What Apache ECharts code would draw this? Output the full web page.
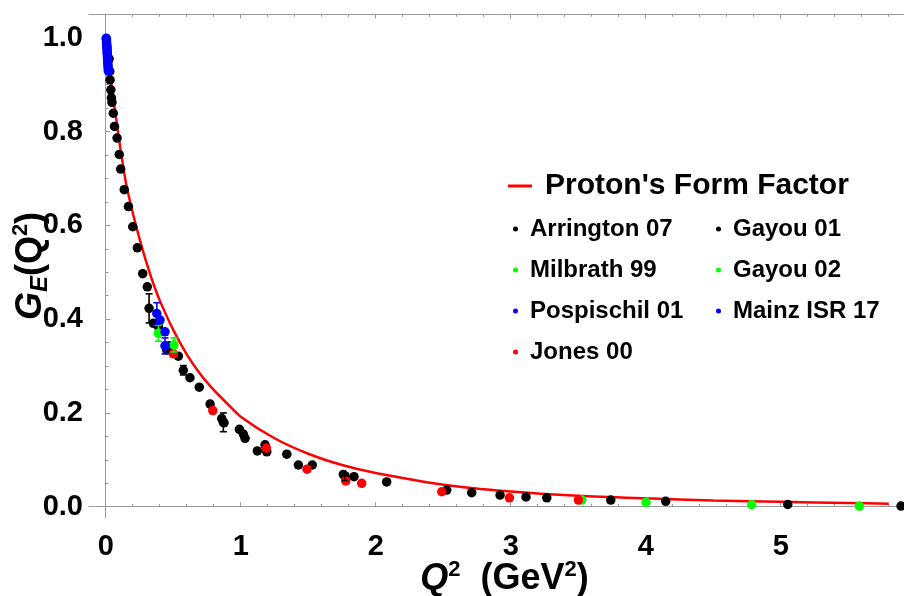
<!DOCTYPE html>
<html><head><meta charset="utf-8">
<script src="https://cdn.jsdelivr.net/npm/echarts@6/dist/echarts.min.js"></script>
<style>html,body{margin:0;padding:0;background:#fff}#c{width:904px;height:596px}</style>
</head><body><div id="c"></div>
<script>
// ---- tick labels ----
const xTicks = [0, 1, 2, 3, 4, 5];
const xMinorTicks = [0.2,0.4,0.6,0.8,1.2,1.4,1.6,1.8,2.2,2.4,2.6,2.8,3.2,3.4,3.6,3.8,4.2,4.4,4.6,4.8,5.2,5.4,5.6,5.8];
const yTicks = [0, 0.2, 0.4, 0.6, 0.8, 1.0];
const yMinorTicks = [0.05,0.1,0.15,0.25,0.3,0.35,0.45,0.5,0.55,0.65,0.7,0.75,0.85,0.9,0.95];

// ---- model curve (Q^2, G_E) ----
const curveQ2 = [0,0.02,0.04,0.06,0.08,0.1,0.15,0.2,0.25,0.3,0.35,0.4,0.5,0.6,0.7,0.8,0.9,1.0,1.25,1.5,1.75,2.0,2.5,3.0,3.5,4.0,4.5,5.0,5.5,5.8];
const curveGE = [1.0,0.950,0.905,0.862,0.822,0.78,0.69,0.627,0.572,0.522,0.478,0.44,0.377,0.325,0.283,0.249,0.22,0.192,0.146,0.113,0.089,0.072,0.047,0.0325,0.0235,0.018,0.0135,0.0104,0.008,0.0066];

// ---- data sets: [Q^2, G_E, error] ----
const arrington07 = [[0.025,0.955,0],[0.030,0.928,0],[0.032,0.910,0],[0.038,0.889,0],[0.042,0.872,0],[0.046,0.862,0],[0.056,0.839,0],[0.065,0.811,0],[0.084,0.786,0],[0.100,0.751,0],[0.111,0.720,0],[0.137,0.676,0],[0.168,0.640,0],[0.200,0.597,0],[0.234,0.552,0],[0.274,0.497,0],[0.308,0.469,0],[0.321,0.423,0.031],[0.353,0.391,0],[0.390,0.384,0],[0.452,0.334,0],[0.471,0.343,0],[0.538,0.321,0],[0.624,0.275,0],[0.693,0.255,0],[0.773,0.219,0],[0.859,0.188,0],[0.871,0.180,0.02],[0.990,0.165,0],[1.019,0.155,0],[1.123,0.119,0],[1.180,0.132,0],[1.341,0.112,0],[1.427,0.089,0],[1.530,0.089,0],[1.760,0.069,0],[1.839,0.064,0],[2.081,0.053,0],[2.711,0.030,0],[2.921,0.025,0],[3.113,0.021,0],[3.267,0.019,0],[3.741,0.0143,0],[4.148,0.0115,0],[5.052,0.005,0],[5.891,0.0015,0]];
const gayou01 = [[0.575,0.291,0.01],[0.876,0.179,0],[1.032,0.146,0],[1.193,0.117,0],[1.773,0.064,0.008],[2.526,0.0356,0]];
const milbrath99 = [[0.390,0.370,0.017],[0.505,0.345,0.015]];
const gayou02 = [[3.526,0.0143,0],[4.002,0.0094,0],[4.785,0.0043,0],[5.582,0.0015,0]];
const pospischil01 = [[0.378,0.412,0.023],[0.402,0.398,0],[0.439,0.373,0],[0.439,0.343,0.017]];
const mainzISR17 = [[0.004,0.999,0],[0.005,0.996,0],[0.006,0.993,0],[0.006,0.989,0],[0.007,0.986,0],[0.008,0.982,0],[0.009,0.979,0],[0.010,0.975,0],[0.011,0.971,0],[0.011,0.967,0],[0.012,0.963,0],[0.013,0.958,0],[0.014,0.954,0],[0.015,0.949,0],[0.016,0.944,0],[0.017,0.939,0],[0.018,0.934,0],[0.019,0.929,0]];
const jones00 = [[0.501,0.326,0],[0.793,0.205,0],[1.190,0.125,0],[1.491,0.080,0],[1.778,0.055,0],[1.896,0.050,0],[2.489,0.032,0],[2.990,0.019,0],[3.501,0.0143,0]];

const X_MIN = -0.124, X_MAX = 5.913, Y_MIN = -0.024, Y_MAX = 1.0506;
const FONT = 'Liberation Sans, Arial, sans-serif';
const AX = '#999999';

const chart = echarts.init(document.getElementById('c'), null, {renderer: 'canvas'});

function scatter(name, data, color, z) {
  return {name, type: 'scatter', data: data.map(d => [d[0], d[1]]), symbolSize: 9.5,
    itemStyle: {color, opacity: 1}, z, xAxisIndex: 0, yAxisIndex: 0, silent: true};
}
function errors(name, data, color, z) {
  return {name: name + ' err', type: 'custom', xAxisIndex: 0, yAxisIndex: 0, z, silent: true,
    data: data.filter(d => d[2] > 0),
    renderItem(params, api) {
      const x = api.value(0), y = api.value(1), e = api.value(2);
      const t = api.coord([x, y + e]), b = api.coord([x, y - e]);
      const hw = 3.5, st = {stroke: color, lineWidth: 1.6};
      return {type: 'group', children: [
        {type: 'line', shape: {x1: t[0], y1: t[1], x2: b[0], y2: b[1]}, style: st},
        {type: 'line', shape: {x1: t[0]-hw, y1: t[1], x2: t[0]+hw, y2: t[1]}, style: st},
        {type: 'line', shape: {x1: b[0]-hw, y1: b[1], x2: b[0]+hw, y2: b[1]}, style: st}
      ]};
    }};
}

const baseX = {type: 'value', min: X_MIN, max: X_MAX, splitLine: {show: false}};
const baseY = {type: 'value', min: Y_MIN, max: Y_MAX, splitLine: {show: false}};
const lab = {fontSize: 29, fontWeight: 'bold', color: '#000', fontFamily: FONT};
const TS = 36;

const option = {
  animation: false,
  backgroundColor: '#fff',
  grid: {left: 89, right: 0, top: 14, bottom: 78, containLabel: false, outerBoundsMode: 'none'},
  xAxis: [
    Object.assign({}, baseX, {position: 'bottom',
      axisLine: {show: true, lineStyle: {color: AX, width: 1}},
      axisTick: {show: true, inside: true, length: 4.5, customValues: xTicks, lineStyle: {color: AX}},
      axisLabel: Object.assign({customValues: xTicks, margin: 14}, lab),
      name: '{i|Q}{sup|2}{n|  (GeV}{sup|2}{n|)}', nameLocation: 'middle', nameGap: 41, nameMoveOverlap: false,
      nameTextStyle: {padding: [0, 0, 0, 16], rich: {
        i: {fontSize: TS, fontWeight: 'bold', fontStyle: 'italic', fontFamily: FONT, color: '#000', lineHeight: 40},
        n: {fontSize: TS, fontWeight: 'bold', fontFamily: FONT, color: '#000', lineHeight: 40},
        sup: {fontSize: 22, fontWeight: 'bold', fontFamily: FONT, color: '#000', lineHeight: 24, verticalAlign: 'top'}
      }}}),
    Object.assign({}, baseX, {position: 'bottom', axisLine: {show: false},
      axisTick: {show: true, inside: true, length: 2.8, customValues: xMinorTicks, lineStyle: {color: AX}},
      axisLabel: {show: false}}),
    Object.assign({}, baseX, {position: 'top',
      axisLine: {show: true, lineStyle: {color: AX, width: 1}},
      axisTick: {show: true, inside: true, length: 4.5, customValues: xTicks, lineStyle: {color: AX}},
      axisLabel: {show: false}}),
    Object.assign({}, baseX, {position: 'top', axisLine: {show: false},
      axisTick: {show: true, inside: true, length: 2.8, customValues: xMinorTicks, lineStyle: {color: AX}},
      axisLabel: {show: false}})
  ],
  yAxis: [
    Object.assign({}, baseY, {position: 'left',
      axisLine: {show: true, lineStyle: {color: AX, width: 1}},
      axisTick: {show: true, inside: true, length: 4.5, customValues: yTicks, lineStyle: {color: AX}},
      axisLabel: Object.assign({customValues: yTicks, margin: 6, formatter: v => v.toFixed(1)}, lab),
      name: '{i|G}{sub|E}{n|(Q}{sup|2}{n|)}', nameLocation: 'middle', nameGap: 37, nameRotate: 90, nameMoveOverlap: false,
      nameTextStyle: {rich: {
        i: {fontSize: TS, fontWeight: 'bold', fontStyle: 'italic', fontFamily: FONT, color: '#000', lineHeight: 42},
        n: {fontSize: TS, fontWeight: 'bold', fontFamily: FONT, color: '#000', lineHeight: 42},
        sub: {fontSize: 24, fontWeight: 'bold', fontStyle: 'italic', fontFamily: FONT, color: '#000', lineHeight: 25, verticalAlign: 'bottom'},
        sup: {fontSize: 22, fontWeight: 'bold', fontFamily: FONT, color: '#000', lineHeight: 24, verticalAlign: 'top'}
      }}}),
    Object.assign({}, baseY, {position: 'left', axisLine: {show: false},
      axisTick: {show: true, inside: true, length: 2.8, customValues: yMinorTicks, lineStyle: {color: AX}},
      axisLabel: {show: false}})
  ],
  legend: [
    {data: [{name: "Proton's Form Factor", icon: 'rect'}], left: 503, top: 166, itemWidth: 24, itemHeight: 3,
      textStyle: {fontSize: 30, fontWeight: 'bold', fontFamily: FONT, color: '#000', padding: [0, 0, 0, 8]}, selectedMode: false},
    {data: ['Arrington 07', 'Milbrath 99', 'Pospischil 01', 'Jones 00'].map(n => ({name: n, icon: 'circle'})),
      orient: 'vertical', left: 508, top: 212, itemWidth: 5, itemHeight: 5, itemGap: 17,
      textStyle: {fontSize: 24, fontWeight: 'bold', fontFamily: FONT, color: '#000', lineHeight: 24, padding: [0, 0, 0, 7]}, selectedMode: false},
    {data: ['Gayou 01', 'Gayou 02', 'Mainz ISR 17'].map(n => ({name: n, icon: 'circle'})),
      orient: 'vertical', left: 711, top: 212, itemWidth: 5, itemHeight: 5, itemGap: 17,
      textStyle: {fontSize: 24, fontWeight: 'bold', fontFamily: FONT, color: '#000', lineHeight: 24, padding: [0, 0, 0, 7]}, selectedMode: false}
  ],
  series: [
    {name: "Proton's Form Factor", type: 'line', data: curveQ2.map((q, i) => [q, curveGE[i]]), smooth: 0.3,
      symbol: 'none', lineStyle: {color: '#ff0000', width: 2.5}, itemStyle: {color: '#ff0000'}, z: 1, silent: true},
    scatter('Arrington 07', arrington07, '#000000', 3),
    scatter('Gayou 01', gayou01, '#000000', 3),
    scatter('Milbrath 99', milbrath99, '#00ff00', 4),
    scatter('Gayou 02', gayou02, '#00ff00', 4),
    scatter('Pospischil 01', pospischil01, '#0000ff', 4),
    scatter('Mainz ISR 17', mainzISR17, '#0000ff', 5),
    scatter('Jones 00', jones00, '#ff0000', 4),
    errors('Arrington 07', arrington07, '#000000', 6),
    errors('Gayou 01', gayou01, '#000000', 6),
    errors('Milbrath 99', milbrath99, '#00ff00', 6),
    errors('Pospischil 01', pospischil01, '#0000ff', 6)
  ]
};
chart.setOption(option);
</script>
</body></html>
